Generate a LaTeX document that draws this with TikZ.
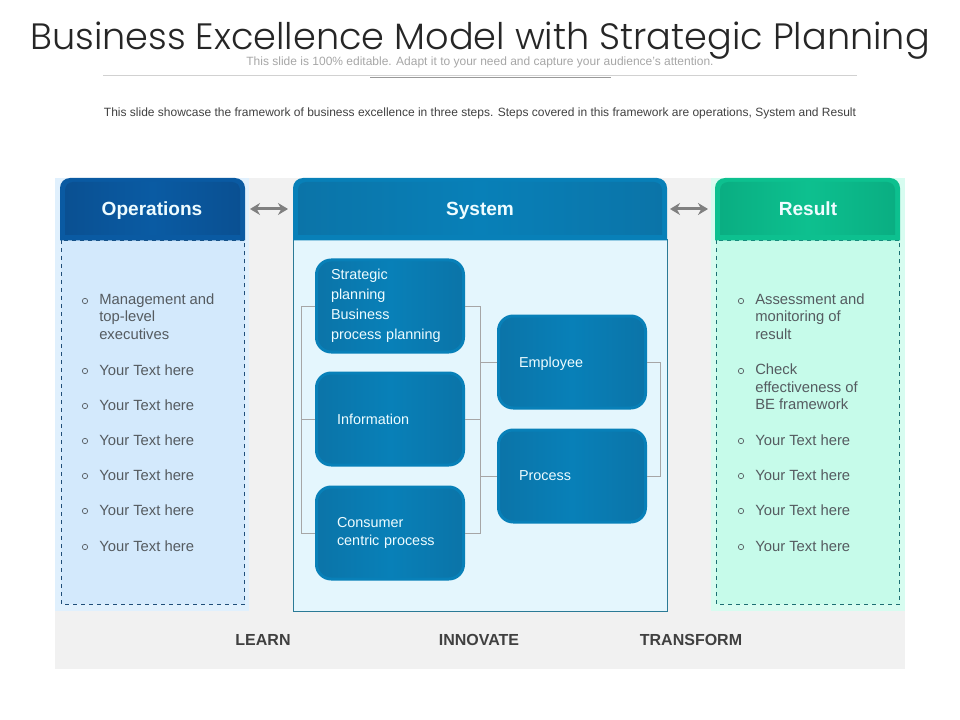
\documentclass[tikz,border=0pt]{standalone}
\usepackage{fontspec}
\setmainfont{Liberation Sans}
\newfontfamily\titlefont[UprightFont=* Light]{Poppins}
\usetikzlibrary{arrows.meta}
\definecolor{panelgray}{HTML}{F1F1F1}
\definecolor{opsfill}{HTML}{D3E9FC}
\definecolor{sysfill}{HTML}{E4F6FD}
\definecolor{resfill}{HTML}{C6FBEA}
\definecolor{opsband}{HTML}{0A5AA2}
\definecolor{opsdark}{HTML}{0A5092}
\definecolor{opsmid}{HTML}{0A5BA3}
\definecolor{sysdark}{HTML}{0B74A8}
\definecolor{sysmid}{HTML}{0880B8}
\definecolor{sysline}{HTML}{2B7A96}
\definecolor{resdark}{HTML}{0AAE82}
\definecolor{resmid}{HTML}{0DC08F}
\definecolor{resline}{HTML}{1C6E72}
\definecolor{opsline}{HTML}{1F4E79}
\definecolor{bodytext}{HTML}{555B60}
\definecolor{softwhite}{HTML}{EEFCFF}
\tikzset{
  bluebox/.style={draw=sysmid, line width=2.25pt, rounded corners=11pt, left color=sysdark, right color=sysdark, middle color=sysmid,
    minimum width=110.25pt, minimum height=69pt, text=softwhite, align=left, font=\fontsize{10.8}{15}\selectfont,
    inner ysep=0pt, inner xsep=#1, text width=110.25pt-2*#1},
  headtext/.style={text=softwhite, text height=10.5pt, text depth=0pt, font=\fontsize{14.3}{16}\selectfont\bfseries},
  itemtext/.style={anchor=west, inner sep=0pt, text=bodytext, align=left, font=\fontsize{11.1}{13.1}\selectfont},
  itemdot/.style={draw=bodytext, circle, inner sep=0pt, minimum size=4pt, line width=0.5pt},
  steptext/.style={text=black!75, font=\fontsize{12}{14}\selectfont\bfseries},
  treeline/.style={draw=black!35, line width=0.6pt},
  twoway/.style={draw=black!50, line width=2.25pt, {Stealth[length=7.5pt,width=9pt]}-{Stealth[length=7.5pt,width=9pt]}}
}
\begin{document}
\begin{tikzpicture}[x=0.75pt, y=-0.75pt]
    \useasboundingbox (0,0) rectangle (960,720);

    % Title and rules
    \node (title) at (480,41) {\titlefont\fontsize{27.5}{32}\selectfont\color{black!85}Business Excellence Model with Strategic Planning};
    \node (subtitle) at (480,62) {\fontsize{9}{11}\selectfont\color{black!35}This slide is 100\% editable. Adapt it to your need and capture your audience's attention.};
    \node (intro) at (480,113) {\fontsize{9}{11}\selectfont\color{black!75}This slide showcase the framework of business excellence in three steps. Steps covered in this framework are operations, System and Result};
    \draw[black!18, line width=0.6pt] (103,75) -- (857,75);
    \draw[black!40, line width=0.6pt] (370,77) -- (611,77);

    % Backdrop and the three panels
    \fill[panelgray] (55,178) rectangle (905,669);
    \fill[opsfill!70!white] (55,178) rectangle (249,611);
    \fill[resfill!70!white] (711,178) rectangle (905,611);
    \filldraw[fill=opsfill, draw=opsline, dashed, line width=0.6pt] (61,240) rectangle (244.5,604);
    \filldraw[fill=sysfill, draw=sysline, line width=0.75pt] (293,240) rectangle (667,611);
    \filldraw[fill=resfill, draw=resline, dashed, line width=0.6pt] (716,240) rectangle (899.5,604);

    % Headers
    \fill[opsband] (60,240.5) [rounded corners=7.5pt] -- (60,178) -- (245,178) [sharp corners] -- (245,240.5) -- cycle;
    \shade[left color=opsdark, right color=opsdark, middle color=opsmid] (65,235) [rounded corners=6pt] -- (65,182) -- (240,182) [sharp corners] -- (240,235) -- cycle;
    \fill[sysmid] (293,240.5) [rounded corners=7.5pt] -- (293,178) -- (667,178) [sharp corners] -- (667,240.5) -- cycle;
    \shade[left color=sysdark, right color=sysdark, middle color=sysmid] (298,235) [rounded corners=6pt] -- (298,182) -- (662,182) [sharp corners] -- (662,235) -- cycle;
    \fill[resmid] (715,240.5) [rounded corners=7.5pt] -- (715,178) -- (900,178) [sharp corners] -- (900,240.5) -- cycle;
    \shade[left color=resdark, right color=resdark, middle color=resmid] (720,235) [rounded corners=6pt] -- (720,182) -- (895,182) [sharp corners] -- (895,235) -- cycle;
    \node[headtext] (opshead) at (152,209) {Operations};
    \node[headtext] (syshead) at (480,209) {System};
    \node[headtext] (reshead) at (808,209) {Result};

    \coordinate (opsedge) at (250,209);
    \coordinate (sysleft) at (288,209);
    \coordinate (sysright) at (670,209);
    \coordinate (resedge) at (708,209);
    \draw[twoway] (opsedge) -- (sysleft);
    \draw[twoway] (sysright) -- (resedge);

    % System boxes
    \node[bluebox=10.9pt] (strat) at (390,306) {Strategic\\planning\\Business\\process planning};
    \node[bluebox=15.4pt] (info) at (390,419) {Information};
    \node[bluebox=15.4pt, font=\fontsize{10.8}{13.5}\selectfont] (cons) at (390,533) {Consumer\\centric process};
    \node[bluebox=15.4pt, text depth=0pt] (emp) at (572,362) {Employee};
    \node[bluebox=15.4pt] (proc) at (572,476) {Process};

    % Tree lines
    \draw[treeline] (strat.west) -- ++(-14,0) |- (cons.west);
    \draw[treeline] (info.west) -- ++(-14,0);
    \draw[treeline] (strat.east) -- ++(15,0) |- (cons.east);
    \draw[treeline] (info.east) -- ++(15,0);
    \draw[treeline] (emp.west) -- ++(-17,0);
    \draw[treeline] (proc.west) -- ++(-17,0);
    \draw[treeline] (emp.east) -- ++(13,0) |- (proc.east);

    % Left list
    \node[itemtext] (ops1) at (99,316.5) {Management and\\top-level\\executives};
    \node[itemdot] (opsdot1) at (85,301) {};
    \foreach \n/\y in {2/370,3/405,4/440,5/475,6/510,7/546}{
        \node[itemtext] (ops\n) at (99,\y) {Your Text here};
        \node[itemdot] (opsdot\n) at (85,\y+1) {};
    }

    % Right list
    \node[itemtext] (res1) at (755,316.5) {Assessment and\\monitoring of\\result};
    \node[itemdot] (resdot1) at (741,301) {};
    \node[itemtext] (res2) at (755,387) {Check\\effectiveness of\\BE framework};
    \node[itemdot] (resdot2) at (741,371) {};
    \foreach \n/\y in {3/440,4/475,5/510,6/546}{
        \node[itemtext] (res\n) at (755,\y) {Your Text here};
        \node[itemdot] (resdot\n) at (741,\y+1) {};
    }

    % Bottom labels
    \node[steptext] (learn) at (263,640) {LEARN};
    \node[steptext] (innovate) at (479,640) {INNOVATE};
    \node[steptext] (transform) at (691,640) {TRANSFORM};
\end{tikzpicture}
\end{document}
